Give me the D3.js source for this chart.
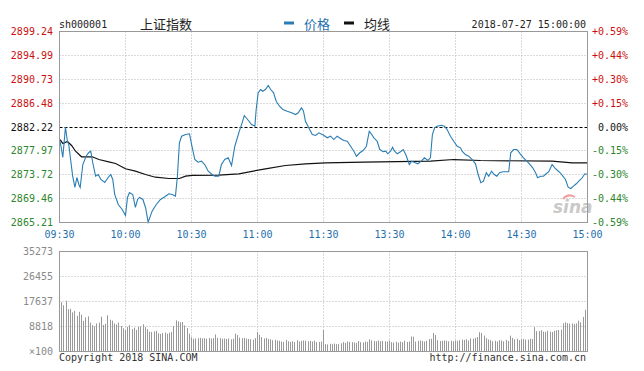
<!DOCTYPE html>
<html>
<head>
<meta charset="utf-8">
<script src="https://cdn.jsdelivr.net/npm/d3@7"></script>
<style>
  html, body { margin: 0; padding: 0; background: #fff; }
  svg { display: block; }
  text { font-family: "DejaVu Sans Mono", monospace; font-size: 10px; }
  .cjk { font-family: "Noto Sans CJK SC", sans-serif; font-size: 13px; }
</style>
</head>
<body>
<svg id="chart" width="644" height="371"></svg>
<script>
// intraday minute index: 0 = 09:30, 120 = 11:30/13:00, 240 = 15:00
const PREV_CLOSE = 2882.22;

const priceTicks = [2899.24, 2894.99, 2890.73, 2886.48, 2882.22, 2877.97, 2873.72, 2869.46, 2865.21];
const pctTicks = ['+0.59%', '+0.44%', '+0.30%', '+0.15%', '0.00%', '-0.15%', '-0.30%', '-0.44%', '-0.59%'];
const timeTicks = [0, 30, 60, 90, 120, 150, 180, 210, 240];
const timeLabels = ['09:30', '10:00', '10:30', '11:00', '11:30', '13:30', '14:00', '14:30', '15:00'];
const volTicks = [35273, 26455, 17637, 8818];

// [minute, price]
const priceLine = [
  [0.3,2879.69],[1.5,2876.79],[2.7,2882.18],[3.6,2879.69],[4.2,2879.10],[6,2873.46],[7,2871.45],[7.9,2873.23],
  [8.8,2871.98],[9.4,2871.45],[10.6,2875.54],[12.1,2877.02],[13.3,2877.68],[14.2,2877.91],[15.1,2875.90],
  [16.4,2873.46],[17.6,2873.76],[18.8,2872.87],[20.6,2872.34],[22.1,2873.23],[23.3,2873.76],[24.2,2872.87],
  [25.1,2870.20],[26.7,2868.42],[28.5,2867.53],[30,2866.47],[30.9,2869.67],[31.8,2870.56],[33.3,2870.20],
  [34.5,2867.89],[35.5,2869.31],[36.4,2869.67],[37.9,2869.31],[39.1,2867.89],[40.3,2865.27],[42.1,2867.23],
  [44,2868.42],[45.9,2869.31],[47.9,2869.80],[49.7,2870.33],[51.2,2870.20],[52.7,2869.90],[53.6,2873.46],
  [54.5,2879.41],[55.5,2880.58],[57.3,2880.88],[59.1,2881.01],[60.1,2879.00],[61.5,2876.43],[63,2875.95],
  [64.5,2876.13],[66,2875.54],[67.6,2874.35],[69.4,2873.76],[70.6,2873.46],[72.4,2873.46],[73.6,2875.54],
  [75.1,2876.43],[76.7,2876.74],[78.2,2875.37],[79.7,2878.80],[81.5,2881.19],[83,2882.97],[84,2884.27],
  [85.5,2883.56],[87.3,2882.67],[88.8,2882.36],[89.4,2885.34],[90.3,2888.31],[91.4,2888.90],[92.4,2888.59],
  [93.6,2888.90],[94.9,2889.61],[96,2888.90],[97.3,2888.31],[98.5,2886.81],[100,2885.92],[101.5,2885.34],
  [103.5,2885.03],[105.5,2884.75],[107.3,2884.45],[108.5,2884.75],[110,2885.64],[110.9,2885.03],[111.8,2883.25],
  [113.3,2882.08],[114.9,2880.88],[116.4,2880.71],[117.9,2881.19],[119.4,2880.88],[120.1,2880.76],[121.7,2880.30],
  [123.2,2880.58],[124.7,2879.99],[126.2,2880.58],[127.7,2880.17],[129.2,2879.82],[130.8,2879.69],[132.3,2878.80],
  [133.8,2877.91],[135,2877.02],[136.5,2877.63],[138,2878.04],[139.5,2878.80],[140.8,2881.47],[141.7,2881.01],
  [142.9,2880.30],[144.4,2879.69],[145.6,2878.21],[147.1,2877.81],[148.3,2877.91],[149.2,2877.45],[150.5,2877.91],
  [151.4,2878.62],[152.3,2877.91],[153.5,2877.45],[155,2877.81],[156.2,2878.21],[157.4,2877.32],[159,2875.54],
  [160.1,2876.13],[161.7,2875.85],[162.9,2875.67],[164.4,2876.13],[165.9,2876.74],[167.4,2876.26],[168.6,2876.74],
  [169.5,2880.88],[170.5,2882.08],[171.7,2882.36],[173.5,2882.54],[175,2882.36],[176.2,2881.77],[177.7,2880.58],
  [179.2,2879.69],[180.8,2878.80],[182.3,2878.52],[183,2877.91],[184.5,2877.32],[186,2877.02],[187.6,2876.43],
  [189.1,2875.67],[190.3,2873.76],[191.5,2872.29],[192.7,2872.57],[194,2874.07],[195.1,2873.46],[196.4,2874.35],
  [197.6,2873.76],[198.8,2873.46],[200,2874.07],[201.5,2874.25],[204.2,2874.25],[205.1,2877.63],[206.4,2878.21],
  [207.9,2878.21],[209.4,2877.45],[210.9,2876.74],[212.4,2876.13],[213.6,2875.67],[215.1,2874.96],[216.4,2874.07],
  [217.3,2873.18],[218.8,2873.46],[220,2873.46],[221.2,2873.89],[222.4,2874.25],[223.9,2875.54],[225.1,2874.96],
  [226.4,2874.48],[227.6,2874.07],[228.8,2873.46],[230,2872.87],[231.2,2871.50],[232.4,2871.27],[233.6,2871.68],
  [234.9,2872.11],[236.4,2872.70],[237.6,2873.18],[238.8,2873.89],[240,2873.76]
];

// [minute, average price]
const avgLine = [
  [0.3,2879.99],[1.5,2879.28],[3.6,2879.64],[5.5,2878.93],[7.3,2877.91],[10,2876.92],[14.9,2876.92],
  [17.9,2876.43],[22.4,2876.02],[25.5,2875.72],[30,2874.78],[34.5,2874.35],[39.1,2873.76],[43.6,2873.28],
  [49.7,2873.05],[54.5,2873.05],[57.3,2873.46],[60.3,2873.59],[72.4,2873.64],[81.5,2873.89],[93.6,2874.78],
  [102.7,2875.37],[111.8,2875.67],[120.9,2875.85],[138.3,2875.95],[168.6,2876.13],[179.2,2876.43],
  [191.4,2876.26],[223.9,2876.13],[233,2875.85],[240,2875.85]
];

// volume per minute, x100 shares (index = minute)
const volume = [
  17800,17400,16300,17900,14900,15100,13800,14300,12600,14000,
  13000,10800,12000,12400,10200,9300,8900,9900,10200,12300,
  9400,9800,12800,11200,10900,9900,9500,10200,9000,8200,
  7600,8700,9300,7900,8400,7600,8700,8900,9600,8600,
  7900,7000,6900,7100,7300,6400,6200,6500,6700,6300,
  6600,6900,9000,11000,10600,10300,10400,9200,8300,6300,
  5000,4500,4600,4700,4800,4600,4700,4500,4800,4600,
  4700,6000,4800,4700,4500,4600,4400,4600,4300,4500,
  6300,5800,4900,4700,4800,4500,4400,4300,4100,4700,
  6900,5900,5100,4600,4800,4400,4300,4000,4100,3900,
  3800,3500,3400,4100,3600,3400,3600,3300,4000,3500,
  3700,3900,3800,3600,3700,3500,3800,3300,3400,3500,
  7600,
  2600,2500,2700,2600,2800,2600,2600,2900,3300,3000,
  3500,3400,3300,3200,3000,3700,3300,3200,3500,3400,
  4300,3900,3700,3600,3900,3600,3700,3600,3500,3900,
  3300,3200,3400,3100,3500,3300,3800,3400,3500,5300,
  5200,3500,3800,3900,3700,3500,3800,4400,4500,6500,
  5800,4000,3700,3800,3900,3800,3600,3800,3600,3900,
  3800,4000,4200,4100,4300,3900,4600,4500,4800,5100,
  6800,6500,5600,4700,4200,4000,3600,3800,3500,4000,
  3900,3600,4100,3700,5600,4800,4300,4500,4000,4300,
  4400,4200,4200,4500,4400,8600,7200,7200,7500,7000,
  6900,7300,7000,6900,7300,7500,7600,7700,9900,10300,
  10000,9800,9900,9700,9900,10900,10300,12200,14700,14500
];

const RED = '#cc1010';
const GREEN = '#2d862d';
const BLUE = '#1f6fae';
const LINE_BLUE = '#2a7db3';
const GRID = '#b4b4b4';
const FRAME = '#999';

const svg = d3.select('#chart');

const x = d3.scaleLinear().domain([0, 240]).range([59.5, 587.5]);
const y = d3.scaleLinear().domain([2865.21, 2899.24]).range([222.5, 31.5]);
const yv = d3.scaleLinear().domain([0, 35273]).range([351.5, 251.5]);

const crisp = v => Math.round(v - 0.5) + 0.5;

// header
svg.append('text').attr('x', 59).attr('y', 27.5).attr('fill', '#222').text('sh000001');
svg.append('text').attr('class', 'cjk').attr('x', 140).attr('y', 28.5).attr('fill', '#222').text('上证指数');
svg.append('rect').attr('x', 284).attr('y', 21.5).attr('width', 10).attr('height', 3).attr('fill', LINE_BLUE);
svg.append('text').attr('class', 'cjk').attr('x', 304).attr('y', 28.5).attr('fill', BLUE).text('价格');
svg.append('rect').attr('x', 344).attr('y', 21.5).attr('width', 10).attr('height', 3).attr('fill', '#111');
svg.append('text').attr('class', 'cjk').attr('x', 364).attr('y', 28.5).attr('fill', '#222').text('均线');
svg.append('text').attr('x', 586).attr('y', 27.5).attr('text-anchor', 'end').attr('fill', '#222')
  .text('2018-07-27 15:00:00');

// price panel grid
const gPrice = svg.append('g');
gPrice.selectAll('.hgrid')
  .data(priceTicks.slice(1, -1))
  .enter().append('line')
  .attr('x1', x(0)).attr('x2', x(240))
  .attr('y1', d => crisp(y(d))).attr('y2', d => crisp(y(d)))
  .attr('stroke', d => d === PREV_CLOSE ? '#000' : GRID)
  .attr('stroke-dasharray', d => d === PREV_CLOSE ? '3,2' : '1,2');

gPrice.selectAll('.vgrid')
  .data(timeTicks.slice(1, -1))
  .enter().append('line')
  .attr('x1', d => crisp(x(d))).attr('x2', d => crisp(x(d)))
  .attr('y1', y.range()[1]).attr('y2', y.range()[0])
  .attr('stroke', GRID).attr('stroke-dasharray', '1,2');

// left price labels and right pct labels
const tickColor = d => d > PREV_CLOSE ? RED : d < PREV_CLOSE ? GREEN : '#111';
svg.selectAll('.plabel')
  .data(priceTicks)
  .enter().append('text')
  .attr('x', 53).attr('y', d => y(d) + 3.5)
  .attr('text-anchor', 'end')
  .attr('fill', tickColor)
  .text(d => d.toFixed(2));

svg.selectAll('.pctlabel')
  .data(priceTicks)
  .enter().append('text')
  .attr('x', 628).attr('y', d => y(d) + 3.5)
  .attr('text-anchor', 'end')
  .attr('fill', tickColor)
  .text((d, i) => pctTicks[i]);

// time labels
svg.selectAll('.tlabel')
  .data(timeTicks)
  .enter().append('text')
  .attr('x', d => x(d)).attr('y', 238)
  .attr('text-anchor', 'middle')
  .attr('fill', BLUE)
  .text((d, i) => timeLabels[i]);

// sina watermark
const logo = svg.append('g').attr('transform', 'translate(553,213)');
logo.append('text').attr('x', 0).attr('y', 0)
  .style('font-family', '"DejaVu Sans", sans-serif').style('font-size', '17px')
  .style('font-style', 'italic').style('font-weight', 'bold')
  .attr('fill', '#c9c9c9').text('sina');
logo.append('path').attr('d', 'M10,-14 q5,-6 12,-2').attr('fill', 'none')
  .attr('stroke', '#f0a0a0').attr('stroke-width', 2);

// average + price lines
const line = d3.line().x(d => x(d[0])).y(d => y(d[1]));
gPrice.append('path').datum(avgLine)
  .attr('d', line).attr('fill', 'none').attr('stroke', '#111').attr('stroke-width', 1.2);
gPrice.append('path').datum(priceLine)
  .attr('d', line).attr('fill', 'none').attr('stroke', LINE_BLUE).attr('stroke-width', 1.1);

// price frame
svg.append('rect')
  .attr('x', x(0)).attr('y', y.range()[1])
  .attr('width', x(240) - x(0)).attr('height', y.range()[0] - y.range()[1])
  .attr('fill', 'none').attr('stroke', FRAME);

// volume panel
const gVol = svg.append('g');
gVol.selectAll('.vhgrid')
  .data(volTicks.slice(1))
  .enter().append('line')
  .attr('x1', x(0)).attr('x2', x(240))
  .attr('y1', d => crisp(yv(d))).attr('y2', d => crisp(yv(d)))
  .attr('stroke', GRID).attr('stroke-dasharray', '1,2');

gVol.selectAll('.vvgrid')
  .data(timeTicks.slice(1, -1))
  .enter().append('line')
  .attr('x1', d => crisp(x(d))).attr('x2', d => crisp(x(d)))
  .attr('y1', yv.range()[1]).attr('y2', yv.range()[0])
  .attr('stroke', GRID).attr('stroke-dasharray', '1,2');

gVol.selectAll('.bar')
  .data(volume)
  .enter().append('line')
  .attr('x1', (d, i) => crisp(x(i))).attr('x2', (d, i) => crisp(x(i)))
  .attr('y1', yv(0)).attr('y2', d => yv(d))
  .attr('stroke', '#999').attr('stroke-width', 1);

svg.append('rect')
  .attr('x', x(0)).attr('y', yv.range()[1])
  .attr('width', x(240) - x(0)).attr('height', yv.range()[0] - yv.range()[1])
  .attr('fill', 'none').attr('stroke', FRAME);

svg.selectAll('.vlabel')
  .data(volTicks)
  .enter().append('text')
  .attr('x', 53).attr('y', d => yv(d) + 3.5)
  .attr('text-anchor', 'end')
  .attr('fill', '#8a8a8a')
  .text(d => d);
svg.append('text').attr('x', 53).attr('y', 354.5).attr('text-anchor', 'end')
  .attr('fill', '#8a8a8a').text('×100');

// footer
svg.append('text').attr('x', 59).attr('y', 361).attr('fill', '#333').text('Copyright 2018 SINA.COM');
svg.append('text').attr('x', 586).attr('y', 361).attr('text-anchor', 'end').attr('fill', '#333')
  .text('http://finance.sina.com.cn');
</script>
</body>
</html>
